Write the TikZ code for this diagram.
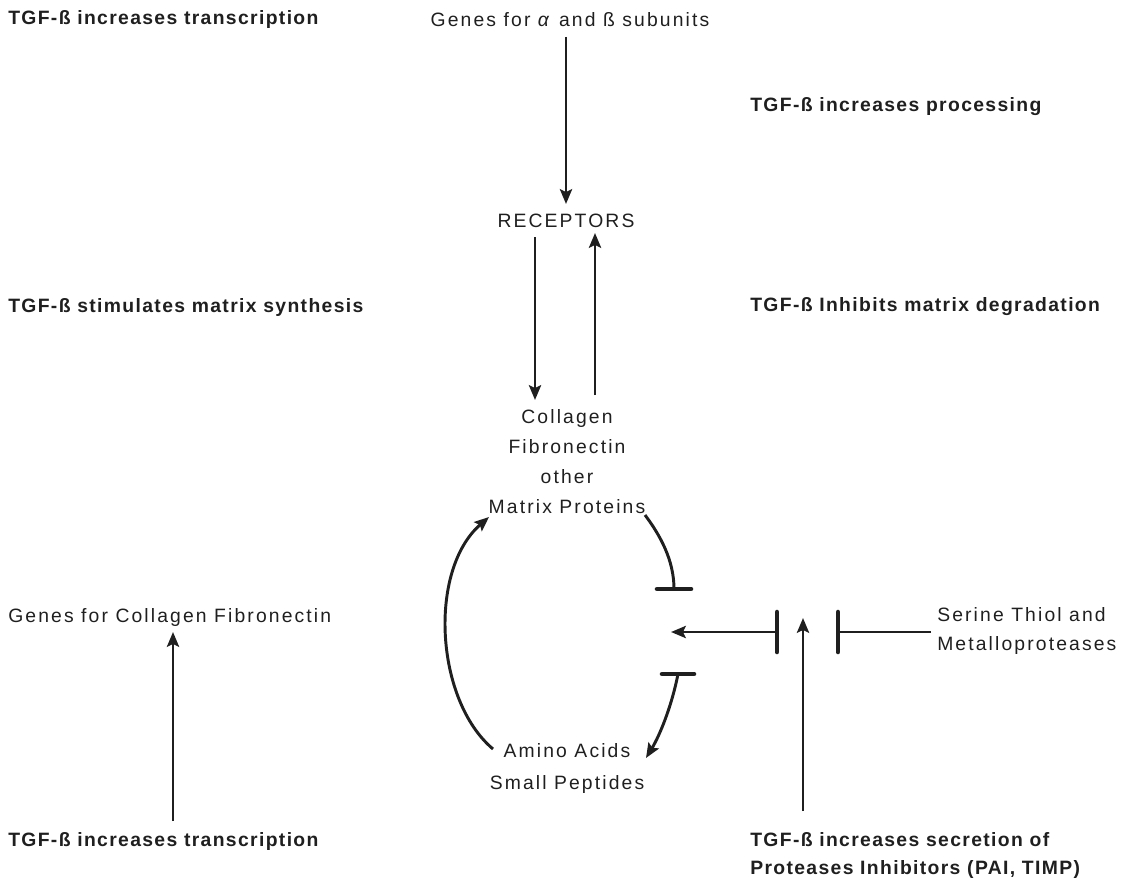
\documentclass[tikz,border=0pt]{standalone}
\usepackage{fontspec}
\setmainfont{Liberation Sans}[LetterSpace=11,BoldFeatures={LetterSpace=7}]
\usetikzlibrary{arrows.meta,calc}
\begin{document}
\begin{tikzpicture}[x=0.75pt,y=-0.75pt,
  txt/.style={inner sep=0pt,font=\fontsize{14.5}{22.5}\selectfont,text=black!88},
  btxt/.style={txt,font=\fontsize{14.5}{21}\selectfont\bfseries,anchor=west},
  conn/.style={line width=2.2pt,black!88},
  arr/.style={conn,-{Stealth[length=11pt,width=9pt,inset=2pt]}},
  tbar/.style={line width=3.4pt,black!88,line cap=round}]
\useasboundingbox (0,0) rectangle (1123,881);

% texts
\node[btxt] (t1) at (8,20) {TGF-ß increases transcription};
\node[txt] (gs) at (570,20) {Genes for \textit{α} and ß subunits};
\node[btxt] (t2) at (750,107) {TGF-ß increases processing};
\node[txt] (rec) at (566,221) {RECEPTORS};
\node[btxt] (t3) at (8,307) {TGF-ß stimulates matrix synthesis};
\node[btxt] (t4) at (750,307) {TGF-ß Inhibits matrix degradation};
\node[txt,align=center] (col) at (567,462) {Collagen\\Fibronectin\\other\\Matrix Proteins};
\node[txt,align=left,anchor=west,font=\fontsize{14.5}{21.75}\selectfont] (ser) at (937,631) {Serine Thiol and\\Metalloproteases};
\node[txt,anchor=west] (gc) at (8,617) {Genes for Collagen Fibronectin};
\node[txt,align=center,font=\fontsize{14.5}{24}\selectfont] (am) at (567,768) {Amino Acids\\Small Peptides};
\node[btxt] (t5) at (8,841) {TGF-ß increases transcription};
\node[btxt,align=left,font=\fontsize{14.5}{21}\selectfont\bfseries] (t6) at (750,855) {TGF-ß increases secretion of\\Proteases Inhibitors (PAI, TIMP)};

% coordinates
\coordinate (a1s) at (566,37);
\coordinate (a1e) at (566,204);
\coordinate (a2s) at (535,237);
\coordinate (a2e) at (535,400);
\coordinate (a3s) at (595,395);
\coordinate (a3e) at (595,233);
\coordinate (b1) at (674,589);
\coordinate (b2) at (678,674);
\coordinate (b3) at (777,632);
\coordinate (b4) at (838,632);
\coordinate (tip) at (671,632);
\coordinate (gap) at (803,618);
\coordinate (a4s) at (173,821);
\coordinate (a4e) at (173,632);

% vertical arrows
\draw[arr] (a1s) -- (a1e);
\draw[arr] (a2s) -- (a2e);
\draw[arr] (a3s) -- (a3e);
\draw[arr] (a4s) -- (a4e);
\draw[arr] (803,811) -- (gap);

% curved arrows
\draw[arr] (493,749) .. controls (435,700) and (428,570) .. (489,517);
\draw[conn] (645,515) .. controls (660,535) and (674,560) .. (b1);
\draw[tbar] (657,589) -- (691,589);
\draw[arr] (b2) .. controls (672,705) and (660,735) .. (646,758);
\draw[tbar] (662,674) -- (694,674);

% protease inhibition
\draw[arr] (b3) -- (tip);
\draw[tbar] (777,612) -- (777,652);
\draw[conn] (ser.west |- b4) ++(-6,0) -- (b4);
\draw[tbar] (838,612) -- (838,652);
\end{tikzpicture}
\end{document}
